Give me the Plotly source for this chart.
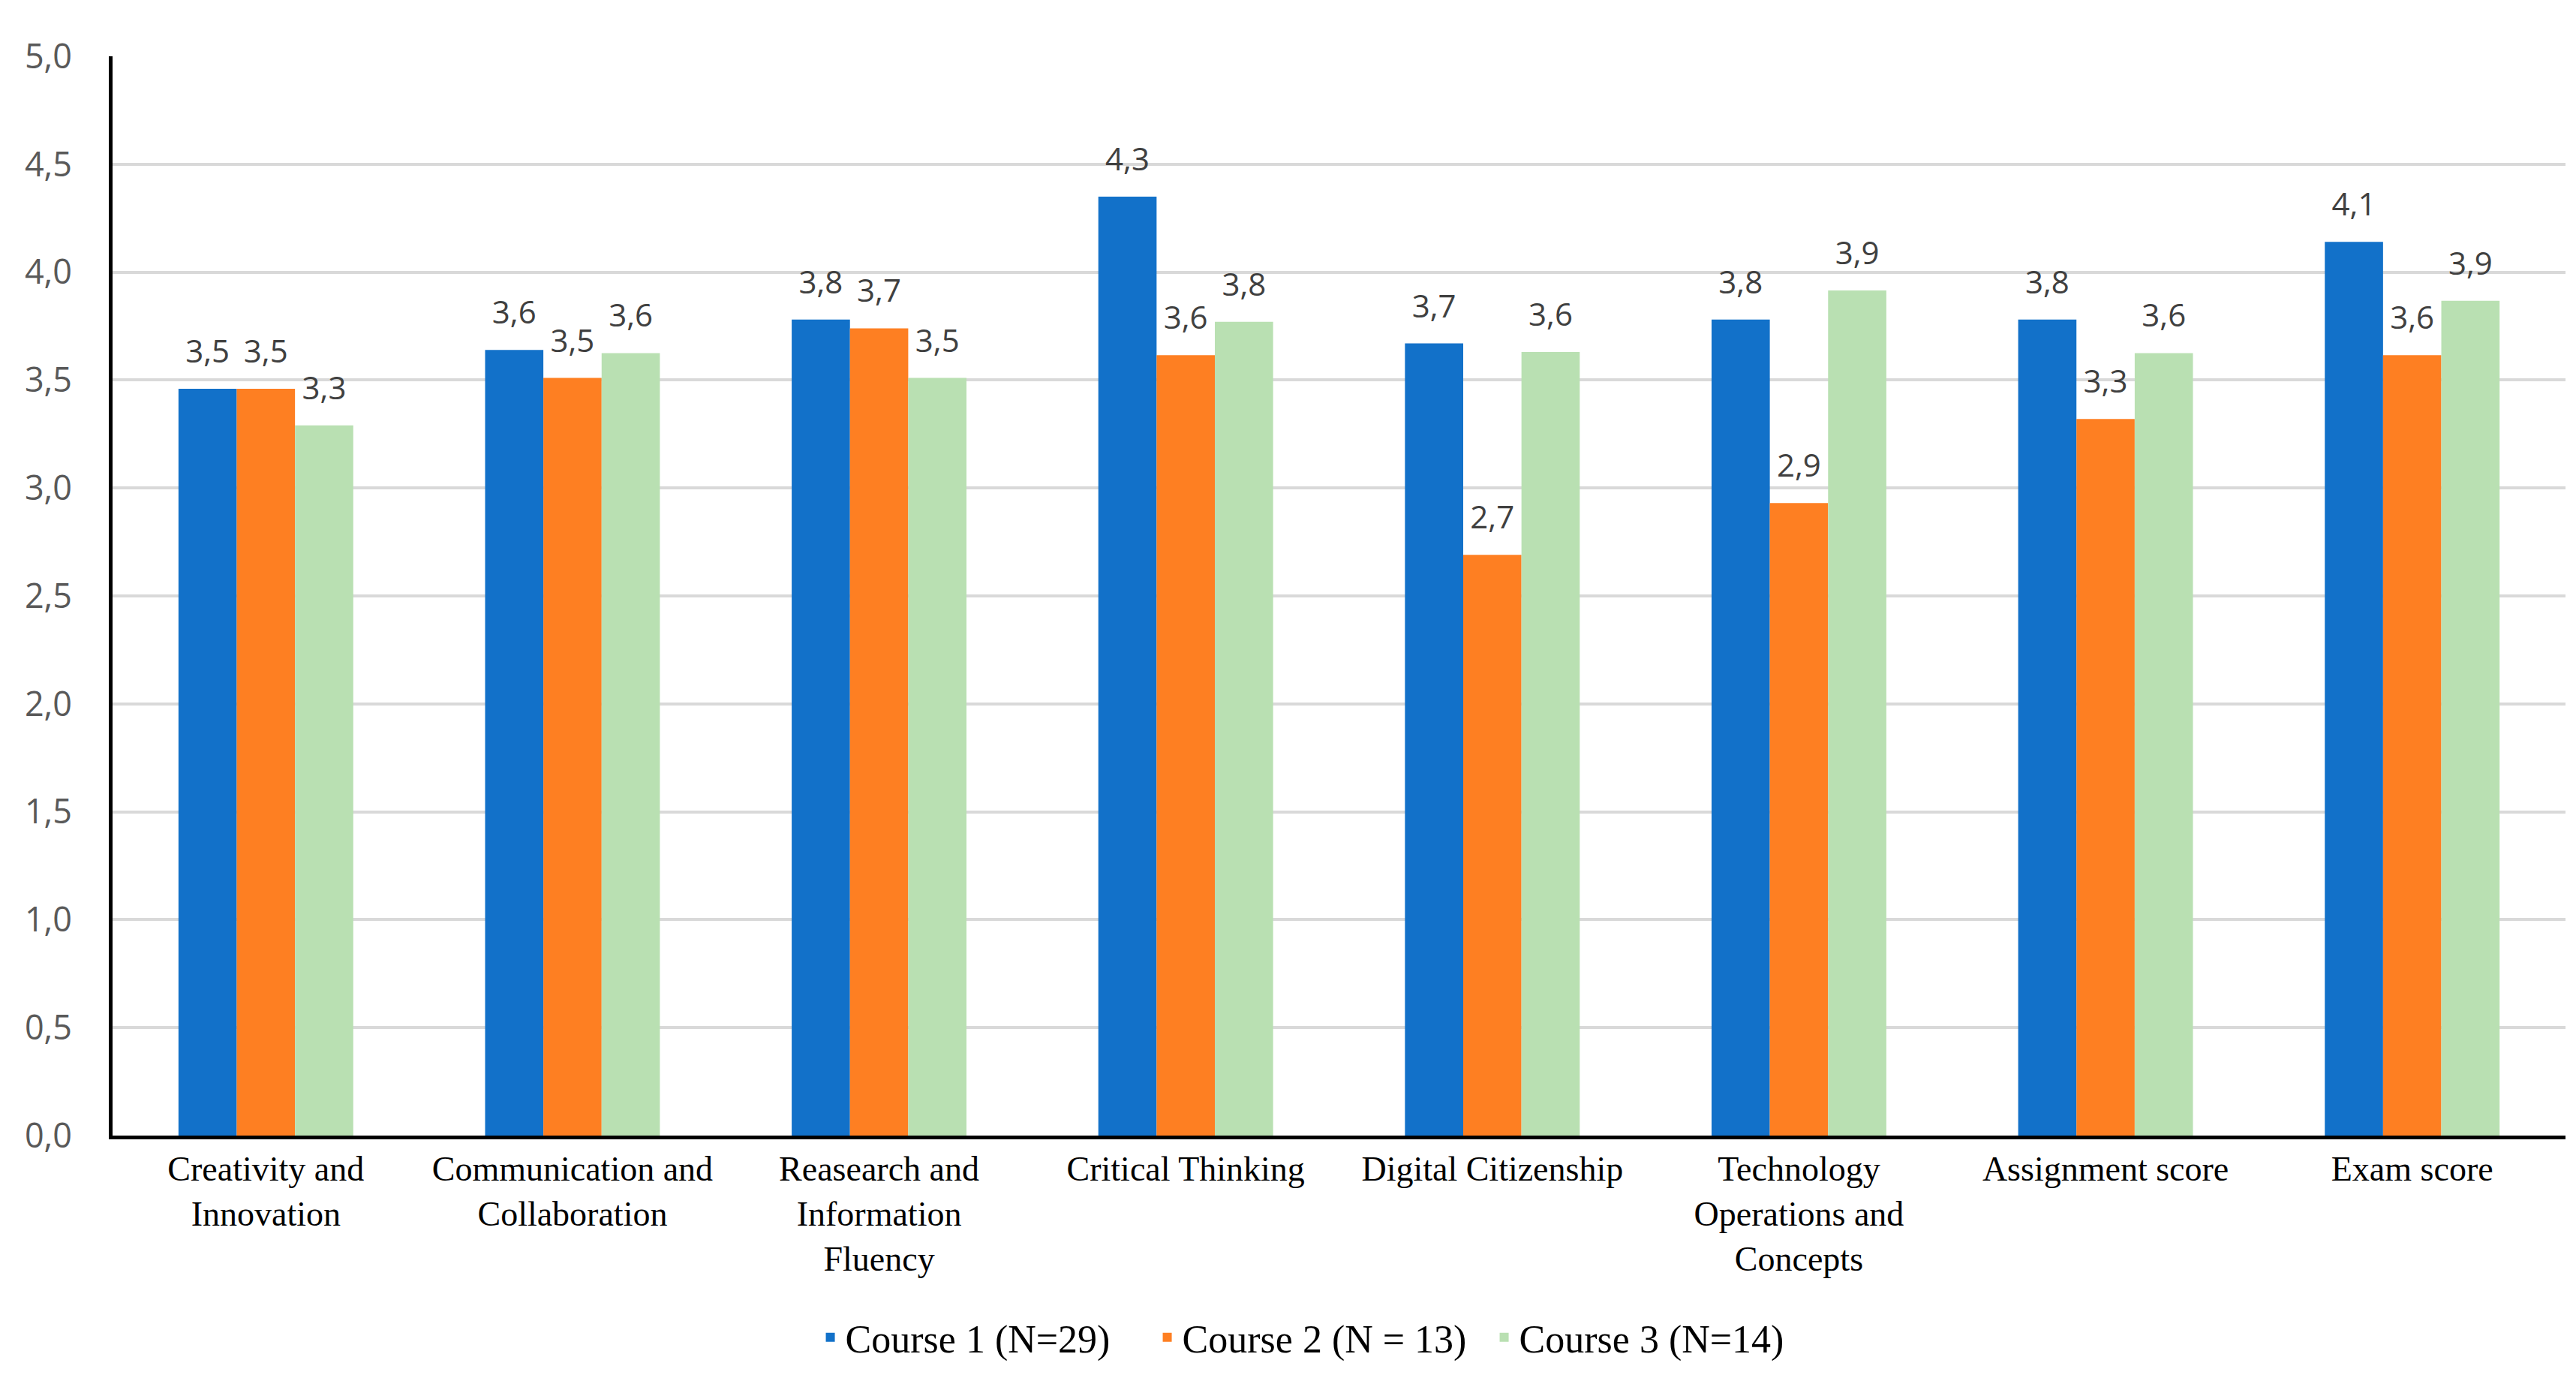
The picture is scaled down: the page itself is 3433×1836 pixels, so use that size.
import plotly.graph_objects as go

categories = [
    "Creativity and<br>Innovation",
    "Communication and<br>Collaboration",
    "Reasearch and<br>Information<br>Fluency",
    "Critical Thinking",
    "Digital Citizenship",
    "Technology<br>Operations and<br>Concepts",
    "Assignment score",
    "Exam score",
]
series_names = ["Course 1 (N=29)", "Course 2 (N = 13)", "Course 3 (N=14)"]
course1 = [3.46, 3.64, 3.78, 4.35, 3.67, 3.78, 3.78, 4.14]
course2 = [3.46, 3.51, 3.74, 3.615, 2.69, 2.93, 3.32, 3.615]
course3 = [3.29, 3.625, 3.51, 3.77, 3.63, 3.915, 3.625, 3.867]
y_ticks = [0, 0.5, 1.0, 1.5, 2.0, 2.5, 3.0, 3.5, 4.0, 4.5, 5.0]

colors = ["#1271C9", "#FE7F22", "#B9E0B2"]

fig = go.Figure()
for name, vals, col in zip(series_names, [course1, course2, course3], colors):
    fig.add_trace(go.Bar(
        x=categories, y=vals, name=name,
        marker=dict(color=col, line=dict(width=0)),
        texttemplate="<span style='font-size:42px'>%{y:.1f}</span><br>&nbsp;",
        textposition="outside",
        textfont=dict(family="Open Sans", size=20, color="#404040"),
        constraintext="none", cliponaxis=False,
    ))

fig.update_layout(
    width=3433, height=1836,
    barmode="group", bargap=0.43, bargroupgap=0,
    separators=",.",
    plot_bgcolor="white", paper_bgcolor="white",
    margin=dict(l=142, r=22, t=67, b=331),
    legend=dict(
        orientation="h", x=0.2865, xanchor="left", y=-0.187, yanchor="middle",
        font=dict(family="Liberation Serif", size=52, color="black"),
        itemwidth=30, tracegroupgap=0, entrywidth=404,
    ),
    xaxis=dict(
        showline=True, linecolor="black", linewidth=5,
        tickfont=dict(family="Liberation Serif", size=46, color="black"),
        ticks="", showgrid=False,
    ),
    yaxis=dict(
        range=[0, 5], tickvals=y_ticks, tickformat=".1f",
        showline=True, linecolor="black", linewidth=5,
        showgrid=True, gridcolor="#D9D9D9", gridwidth=4,
        zeroline=False,
        tickfont=dict(family="Open Sans", size=45, color="#595959"),
        ticks="", ticklabelstandoff=40,
    ),
)

fig.write_html("out.html")
